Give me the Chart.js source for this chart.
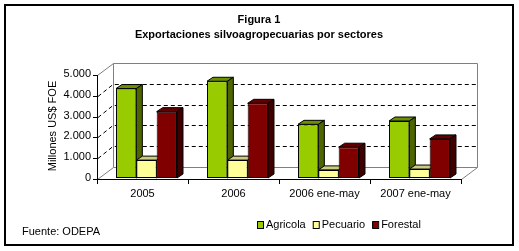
<!DOCTYPE html>
<html>
<head>
<meta charset="utf-8">
<script src="https://cdn.jsdelivr.net/npm/chart.js@4.4.1/dist/chart.umd.min.js"></script>
<style>
  html, body { margin: 0; padding: 0; background: #fff; }
  #wrap { width: 519px; height: 251px; }
</style>
</head>
<body>
<div id="wrap"><canvas id="chart" width="519" height="251"></canvas></div>
<script>
const categories = ['2005', '2006', '2006 ene-may', '2007 ene-may'];
const agricola = [4300, 4650, 2580, 2740];
const pecuario = [860, 860, 390, 430];
const forestal = [3190, 3590, 1480, 1880];
const yTicks = [0, 1000, 2000, 3000, 4000, 5000];

const FONT = '"Liberation Sans", Arial, sans-serif';
// front, top, side colours for each series
const shades = [
    { front: '#99CC00', top: '#6B8F00', side: '#4D6600' },
    { front: '#FFFF99', top: '#CCCC80', side: '#A3A36B' },
    { front: '#800000', top: '#600000', side: '#400000' }
];
const DEPTH = { x: 16, y: -12 };   // wall depth
const BAR_D = { x: 6, y: -4 };     // bar depth
const SHIFT = 4;                   // bars sit a little behind the front plane

function fmt(v) {
    return v.toString().replace(/\B(?=(\d{3})+(?!\d))/g, '.');
}

const frame3d = {
    id: 'frame3d',
    beforeDatasetsDraw(chart) {
        const ctx = chart.ctx;
        const ca = chart.chartArea;
        const ys = chart.scales.y;
        const x0 = ca.left - SHIFT, x1 = ca.right - SHIFT;
        const yb = ca.bottom + 1, yt = ca.top + 1;
        ctx.save();
        ctx.lineWidth = 1;

        // back wall, floor and left wall outline
        ctx.strokeStyle = '#808080';
        ctx.beginPath();
        ctx.moveTo(x0 + 0.5, yt + 0.5);
        ctx.lineTo(x0 + DEPTH.x + 0.5, yt + DEPTH.y + 0.5);
        ctx.lineTo(x1 + DEPTH.x + 0.5, yt + DEPTH.y + 0.5);
        ctx.lineTo(x1 + DEPTH.x + 0.5, yb + DEPTH.y + 0.5);
        ctx.lineTo(x1 + 0.5, yb + 0.5);
        ctx.moveTo(x0 + DEPTH.x + 0.5, yt + DEPTH.y + 0.5);
        ctx.lineTo(x0 + DEPTH.x + 0.5, yb + DEPTH.y + 0.5);
        ctx.lineTo(x1 + DEPTH.x + 0.5, yb + DEPTH.y + 0.5);
        ctx.moveTo(x0 + 0.5, yb + 0.5);
        ctx.lineTo(x0 + DEPTH.x + 0.5, yb + DEPTH.y + 0.5);
        ctx.stroke();

        // dashed gridlines on back and left walls
        ctx.strokeStyle = '#000';
        ctx.setLineDash([4, 3]);
        ctx.beginPath();
        yTicks.slice(1, -1).forEach(v => {
            const y = Math.round(ys.getPixelForValue(v)) + 1;
            ctx.moveTo(x0 + 1, y + 0.5);
            ctx.lineTo(x0 + DEPTH.x, y + DEPTH.y + 0.5);
            ctx.lineTo(x1 + DEPTH.x, y + DEPTH.y + 0.5);
        });
        ctx.stroke();
        ctx.setLineDash([]);

        // axes
        ctx.beginPath();
        ctx.moveTo(x0 + 0.5, yt);
        ctx.lineTo(x0 + 0.5, yb + 0.5);
        ctx.lineTo(x1 + 0.5, yb + 0.5);
        yTicks.forEach(v => {
            const y = Math.round(ys.getPixelForValue(v)) + 1;
            ctx.moveTo(x0 - 4, y + 0.5);
            ctx.lineTo(x0, y + 0.5);
        });
        const step = (ca.right - ca.left) / categories.length;
        for (let i = 0; i <= categories.length; i++) {
            const x = Math.round(x0 + i * step) + 0.5;
            ctx.moveTo(x, yb);
            ctx.lineTo(x, yb + 5);
        }
        ctx.stroke();

        // top and side faces of the bars (front faces are drawn by Chart.js)
        for (let i = 0; i < categories.length; i++) {
            chart.data.datasets.forEach((ds, d) => {
                const el = chart.getDatasetMeta(d).data[i];
                const p = el.getProps(['x', 'y', 'base', 'width'], true);
                const l = p.x - p.width / 2, r = p.x + p.width / 2;
                const top = p.y, base = p.base;
                ctx.strokeStyle = '#000';
                ctx.fillStyle = shades[d].top;
                ctx.beginPath();
                ctx.moveTo(l, top);
                ctx.lineTo(l + BAR_D.x, top + BAR_D.y);
                ctx.lineTo(r + BAR_D.x, top + BAR_D.y);
                ctx.lineTo(r, top);
                ctx.closePath();
                ctx.fill();
                ctx.stroke();
                ctx.fillStyle = shades[d].side;
                ctx.beginPath();
                ctx.moveTo(r, top);
                ctx.lineTo(r + BAR_D.x, top + BAR_D.y);
                ctx.lineTo(r + BAR_D.x, base + BAR_D.y);
                ctx.lineTo(r, base);
                ctx.closePath();
                ctx.fill();
                ctx.stroke();
            });
        }
        ctx.restore();
    },
    afterDraw(chart) {
        const ctx = chart.ctx;
        ctx.save();
        // outer border
        ctx.strokeStyle = '#000';
        ctx.lineWidth = 2;
        ctx.strokeRect(5, 5, 508, 240);

        ctx.fillStyle = '#000';
        ctx.textAlign = 'center';
        ctx.textBaseline = 'middle';
        ctx.font = 'bold 11px ' + FONT;
        ctx.fillText('Figura 1', 259, 20);
        ctx.fillText('Exportaciones silvoagropecuarias por sectores', 259, 35);

        ctx.font = '11px ' + FONT;
        ctx.textAlign = 'left';
        ctx.fillText('Fuente: ODEPA', 22, 232);

        // legend
        let x = 257;
        ctx.lineWidth = 1;
        chart.data.datasets.forEach((ds, d) => {
            ctx.fillStyle = shades[d].front;
            ctx.fillRect(x, 222, 6, 6);
            ctx.strokeRect(x + 0.5, 221.5, 6, 7);
            ctx.fillStyle = '#000';
            ctx.fillText(ds.label, x + 9, 225);
            x += 9 + ctx.measureText(ds.label).width + 7;
        });
        ctx.restore();
    }
};

new Chart(document.getElementById('chart'), {
    type: 'bar',
    data: {
        labels: categories,
        datasets: [
            { label: 'Agricola', data: agricola, backgroundColor: shades[0].front },
            { label: 'Pecuario', data: pecuario, backgroundColor: shades[1].front },
            { label: 'Forestal', data: forestal, backgroundColor: shades[2].front }
        ]
    },
    options: {
        responsive: false,
        animation: false,
        layout: { padding: { top: 74, right: 54, bottom: 0, left: 0 } },
        datasets: {
            bar: {
                categoryPercentage: 0.67,
                barPercentage: 1.0,
                borderColor: '#000',
                borderWidth: 1,
                borderSkipped: false
            }
        },
        plugins: {
            legend: { display: false },
            title: { display: false },
            tooltip: { enabled: false }
        },
        scales: {
            x: {
                grid: { display: false, drawTicks: false },
                border: { display: false },
                ticks: {
                    color: '#000',
                    font: { family: FONT, size: 11 },
                    padding: 9,
                    labelOffset: -SHIFT,
                    maxRotation: 0,
                    autoSkip: false
                },
                afterFit(scale) { scale.height = 73; }
            },
            y: {
                min: 0,
                max: 5000,
                grid: { display: false, drawTicks: false },
                border: { display: false },
                ticks: {
                    stepSize: 1000,
                    color: '#000',
                    font: { family: FONT, size: 11 },
                    padding: 10,
                    callback: v => fmt(v)
                },
                title: {
                    display: true,
                    text: 'Millones US$ FOE',
                    color: '#000',
                    font: { family: FONT, size: 11 },
                    padding: { top: 46, bottom: 0 }
                },
                afterFit(scale) { scale.width = 101; }
            }
        }
    },
    plugins: [frame3d]
});
</script>
</body>
</html>
